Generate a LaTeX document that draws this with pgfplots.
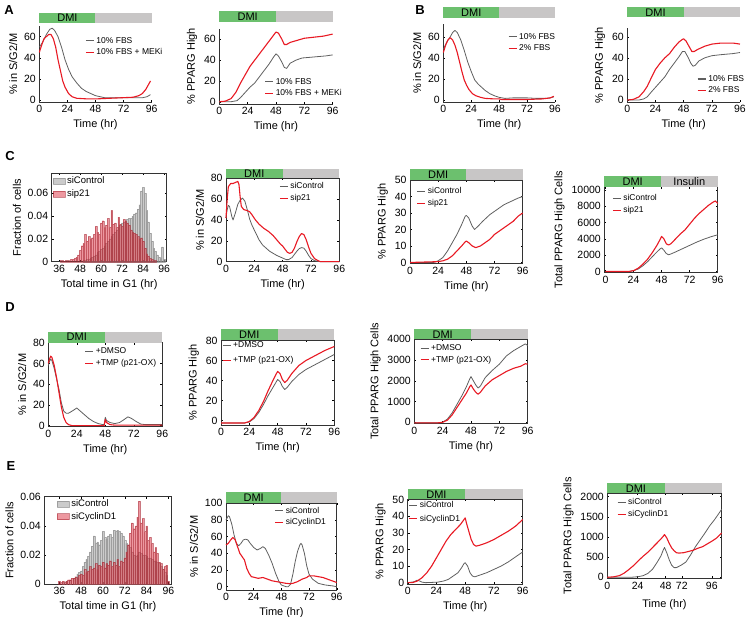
\documentclass[border=0pt]{standalone}
\usepackage{pgfplots}
\pgfplotsset{compat=1.18}
\usepackage{fontspec}
\setmainfont{Liberation Sans}
\definecolor{dmigreen}{RGB}{108,192,110}
\definecolor{dmigray}{RGB}{200,198,198}
\definecolor{lgray}{RGB}{95,95,95}
\definecolor{lred}{RGB}{232,25,35}
\definecolor{hgray}{RGB}{175,175,175}
\definecolor{hred}{RGB}{220,50,65}
\pgfplotsset{
  panel/.style={scale only axis, anchor=south west, clip=false,
    tick align=inside, major tick length=2pt,
    tick style={black, line width=0.4pt},
    axis line style={line width=0.5pt, black!80},
    ticklabel style={font=\fontsize{10.5}{11}\selectfont},
    label style={font=\fontsize{11}{12}\selectfont},
    /pgf/number format/assume math mode=true,
    xtick={0,24,48,72,96}, xmin=0, xmax=96, xlabel={Time (hr)},
    legend style={draw=none, fill=none, inner sep=0pt, outer sep=0pt,
      font=\fontsize{8.5}{10}\selectfont, cells={anchor=west}, anchor=north west},
    legend image code/.code={\draw[##1, line width=1.1pt] (0pt,0pt) -- (8pt,0pt);},
    scaled y ticks=false,
    yticklabel style={/pgf/number format/1000 sep={}},
    every axis plot/.append style={no markers, line join=round}},
  open/.style={axis lines*=left},
  hist/.style={legend image code/.code={\fill[##1] (0pt,-3pt) rectangle (12pt,3pt);},
    legend style={font=\fontsize{9.5}{11}\selectfont}},
  gl/.style={color=lgray, line width=0.8pt},
  rl/.style={color=lred, line width=1.1pt},
  hg/.style={ybar, bar width=1, bar shift=0pt, fill=hgray, fill opacity=0.65, draw=black!45, draw opacity=0.7, line width=0.25pt},
  hr/.style={ybar, bar width=1, bar shift=0pt, fill=hred, fill opacity=0.5, draw=hred!75!black, draw opacity=0.55, line width=0.25pt},
}
\newcommand{\dmibar}[2]{%
  \fill[dmigreen] ([yshift=#1]rel axis cs:0,1) rectangle ([yshift=#1+#2]rel axis cs:0.5,1);
  \fill[dmigray] ([yshift=#1]rel axis cs:0.5,1) rectangle ([yshift=#1+#2]rel axis cs:1,1);
  \node[font=\fontsize{11}{11}\selectfont, inner sep=0pt] at ([yshift=#1+0.5*#2]rel axis cs:0.25,1) {DMI};}
\begin{document}
\begin{tikzpicture}[x=1pt,y=1pt]
\path[use as bounding box] (0pt,0pt) rectangle (750pt,617pt);
\node[font=\bfseries\fontsize{13}{13}\selectfont] at (9pt,607pt) {A};
\node[font=\bfseries\fontsize{13}{13}\selectfont] at (420pt,607pt) {B};
\node[font=\bfseries\fontsize{13}{13}\selectfont] at (10pt,461pt) {C};
\node[font=\bfseries\fontsize{13}{13}\selectfont] at (10pt,310pt) {D};
\node[font=\bfseries\fontsize{13}{13}\selectfont] at (11pt,151pt) {E};

% ---------------- A left
\begin{axis}[panel, open, at={(39.3pt,515pt)}, width=112.4pt, height=75.9pt,
  ymin=-2, ymax=70, ytick={0,20,40,60}, ylabel={\% in S/G2/M},
  legend style={at={(0.41,0.88)}}]
\addplot[gl] coordinates {(0,50)(3,55)(6,62)(9,67)(11,68)(13,66)(16,60)(19,50)(22,38)(25,29)(28,22)(32,16)(36,11)(40,8)(44,6)(48,4)(52,3)(56,2)(60,2)(70,2)(80,2)(88,2)(92,3)(95,5)};
\addplot[rl] coordinates {(0,45)(2,52)(4,58)(6,60)(8,62)(10,62)(12,58)(14,50)(16,38)(18,28)(20,18)(22,12)(25,6)(28,3)(32,1.5)(40,1)(50,1)(60,1.5)(70,2)(80,2.5)(85,4)(88,6)(91,10)(93,14)(95,18)};
\legend{10\% FBS, 10\% FBS + MEKi}
\dmibar{3.4pt}{10pt}
\end{axis}

% ---------------- A right
\begin{axis}[panel, open, at={(219.3pt,513.2pt)}, width=113.4pt, height=74.9pt,
  ymin=-2, ymax=70, ytick={0,20,40,60}, ylabel={\% PPARG High},
  legend style={at={(0.40,0.37)}}]
\addplot[gl] coordinates {(0,0)(10,0)(15,1)(18,4)(22,9)(26,14)(30,18)(34,24)(38,30)(42,36)(46,43)(48,46)(50,44)(53,38)(55,33)(57,32)(60,37)(65,40)(70,42)(80,43)(90,44)(96,45)};
\addplot[rl] coordinates {(0,0)(5,0.5)(10,3)(14,9)(18,18)(22,26)(26,34)(30,40)(34,46)(38,52)(42,58)(46,64)(48,67)(50,66)(53,60)(55,55)(57,55)(60,57)(66,59)(72,61)(80,62)(88,63)(96,65)};
\legend{10\% FBS, 10\% FBS + MEKi}
\dmibar{6.6pt}{11pt}
\end{axis}

% ---------------- B left
\begin{axis}[panel, open, at={(443.3pt,514.9pt)}, width=111.7pt, height=78pt,
  ymin=-2, ymax=72, ytick={0,20,40,60}, ylabel={\% in S/G2/M},
  legend style={at={(0.58,0.91)}}]
\addplot[gl] coordinates {(0,48)(3,55)(6,60)(8,64)(10,66)(12,64)(15,57)(18,47)(21,36)(24,27)(27,19)(30,15)(33,12)(36,9)(40,6)(44,4)(48,2.5)(53,1.5)(60,2)(72,2)(80,1.5)(88,1.5)(92,2)(95,3)};
\addplot[rl] coordinates {(0,45)(2,52)(4,57)(6,59)(8,57)(10,52)(12,45)(14,36)(16,27)(18,19)(20,14)(22,10)(25,6)(28,4)(32,2.5)(36,1.5)(44,1)(48,1)(50,0.5)(60,0.5)(72,0.5)(85,1)(92,2)(95,3.5)};
\legend{10\% FBS, 2\% FBS}
\dmibar{5.7pt}{11pt}
\end{axis}

% ---------------- B right
\begin{axis}[panel, open, at={(627.3pt,514.9pt)}, width=112.7pt, height=73.8pt,
  ymin=-2, ymax=68, ytick={0,20,40,60}, ylabel={\% PPARG High},
  legend style={at={(0.62,0.39)}}]
\addplot[gl] coordinates {(0,0)(10,0)(14,1)(17,3)(20,7)(24,12)(28,17)(32,22)(36,29)(40,35)(44,41)(47,46)(49,46)(52,40)(54,35)(56,32)(58,33)(61,37)(66,40)(72,42)(80,43)(90,44)(96,45)};
\addplot[rl] coordinates {(0,0)(5,0.5)(10,3)(14,8)(17,13)(20,20)(24,29)(28,35)(32,40)(36,44)(40,50)(44,55)(47,57.5)(48,58)(50,56)(53,50)(55,46)(57,46)(60,48)(66,51)(72,53)(80,54)(90,54)(96,53)};
\legend{10\% FBS, 2\% FBS}
\dmibar{11pt}{10pt}
\end{axis}

% ---------------- C histogram
\begin{axis}[panel, hist, at={(51.7pt,355.3pt)}, width=115pt, height=88.4pt,
  xmin=31.7, xmax=97.4, xtick={36,48,60,72,84,96}, ymin=0, ymax=0.0775,
  ytick={0,0.02,0.04,0.06}, yticklabels={0,0.02,0.04,0.06},
  ylabel={Fraction of cells}, xlabel={Total time in G1 (hr)},
  legend style={at={(0.01,0.98)}}]
\addplot[hg] coordinates {(50,0.001)(51,0.001)(52,0.002)(53,0.002)(54,0.003)(55,0.004)(56,0.005)(57,0.006)(58,0.008)(59,0.009)(60,0.011)(61,0.012)(62,0.014)(63,0.016)(64,0.018)(65,0.020)(66,0.022)(67,0.024)(68,0.026)(69,0.028)(70,0.030)(71,0.032)(72,0.034)(73,0.035)(74,0.036)(75,0.037)(76,0.038)(77,0.038)(78,0.040)(79,0.042)(80,0.043)(81,0.046)(82,0.050)(83,0.062)(84,0.065)(85,0.060)(86,0.045)(87,0.035)(88,0.025)(89,0.018)(90,0.012)(91,0.009)(92,0.006)(93,0.004)(94,0.003)(95,0.013)(96,0.002)};
\addplot[hr] coordinates {(37,0.001)(38,0.001)(39,0.0005)(40,0.001)(41,0.001)(42,0.0005)(43,0.002)(44,0.002)(45,0.003)(46,0.004)(47,0.006)(48,0.010)(49,0.014)(50,0.016)(51,0.024)(52,0.018)(53,0.022)(54,0.020)(55,0.021)(56,0.024)(57,0.031)(58,0.026)(59,0.024)(60,0.034)(61,0.036)(62,0.030)(63,0.032)(64,0.038)(65,0.030)(66,0.045)(67,0.033)(68,0.034)(69,0.030)(70,0.039)(71,0.033)(72,0.031)(73,0.037)(74,0.036)(75,0.034)(76,0.032)(77,0.028)(78,0.026)(79,0.025)(80,0.024)(81,0.022)(82,0.020)(83,0.021)(84,0.018)(85,0.012)(86,0.007)(87,0.005)(88,0.003)(89,0.002)(90,0.001)(91,0.001)};
\legend{siControl, sip21}
\end{axis}

% ---------------- C S/G2/M
\begin{axis}[panel, at={(226pt,355.3pt)}, width=113.3pt, height=83.4pt,
  ymin=0, ymax=80, ytick={0,20,40,60,80}, ylabel={\% in S/G2/M},
  legend style={at={(0.47,0.97)}}]
\addplot[gl] coordinates {(0,42)(1,50)(2,54)(3,53)(5,43)(6,40)(8,47)(10,55)(12,59)(14,61)(16,58)(18,50)(20,41)(22,35)(25,28)(28,21)(31,16)(34,13)(37,10)(40,8)(43,6)(46,4.5)(49,3)(51,2)(53,2)(56,4)(58,7)(60,10)(62,12.5)(64,13.5)(66,13)(68,10)(70,6)(72,3)(75,1)(78,0.3)(80,0)(96,0)};
\addplot[rl] coordinates {(0,42)(1,60)(2,72)(4,75)(6,75)(8,76)(10,77)(11,74)(12,62)(13,53)(15,50)(18,49)(20,48)(22,45)(25,40)(28,36)(32,32)(36,29)(40,25)(43,21)(46,17)(48,15)(50,12)(52,9)(54,8)(56,9)(58,13)(60,19)(62,24)(64,27)(66,26)(68,21)(70,14)(72,8)(75,3)(78,1)(80,0)(96,0)};
\legend{siControl, sip21}
\dmibar{0pt}{9.5pt}
\end{axis}

% ---------------- C PPARG
\begin{axis}[panel, at={(410pt,353.7pt)}, width=112.7pt, height=83.3pt,
  ymin=-0.5, ymax=50, ytick={0,10,20,30,40,50}, ylabel={\% PPARG High},
  legend style={at={(0.06,0.93)}}]
\addplot[gl] coordinates {(0,0)(20,0)(24,1)(28,3)(32,7)(36,12)(40,17)(44,23)(47,28)(48,28.5)(50,27)(53,22)(55,20)(58,22)(62,25)(68,29)(74,32)(80,35)(86,37)(92,39)(96,40)};
\addplot[rl] coordinates {(0,0)(24,0.5)(28,1)(32,2)(36,4)(40,7)(44,10)(47,12.5)(48,13)(50,12)(53,10)(56,9)(60,10)(64,12)(68,14)(72,17)(76,19)(80,21)(84,23)(88,25)(92,28)(96,30)};
\legend{siControl, sip21}
\dmibar{0pt}{10.7pt}
\end{axis}

% ---------------- C Total
\begin{axis}[panel, at={(604.3pt,344.7pt)}, width=113.4pt, height=85.6pt,
  xmin=-1, ymin=-100, ymax=10400, ytick={0,2000,4000,6000,8000,10000},
  ylabel={Total PPARG High Cells}, xlabel={},
  legend style={at={(0.07,0.93)}}]
\addplot[gl] coordinates {(0,0)(20,0)(24,100)(28,300)(32,700)(36,1200)(40,1800)(44,2400)(47,2800)(48,2900)(50,2600)(52,2200)(54,2050)(56,2150)(60,2400)(66,2800)(72,3200)(78,3600)(84,3950)(90,4250)(96,4500)};
\addplot[rl] coordinates {(0,0)(20,0)(24,100)(28,400)(32,900)(36,1500)(40,2300)(44,3200)(47,4000)(48,4300)(50,4000)(52,3400)(54,3250)(56,3400)(60,4000)(64,4600)(68,5100)(72,5800)(76,6500)(80,7100)(84,7600)(88,8100)(92,8500)(94,8650)(96,8350)};
\legend{siControl, sip21}
\dmibar{0pt}{10.6pt}
\node[font=\fontsize{11}{11}\selectfont, inner sep=0pt] at ([yshift=5.3pt]rel axis cs:0.75,1) {Insulin};
\end{axis}

% ---------------- D left
\begin{axis}[panel, at={(48.3pt,190.3pt)}, width=114pt, height=84pt,
  ymin=-1, ymax=80, ytick={0,20,40,60,80}, ylabel={\% in S/G2/M},
  legend style={at={(0.32,0.96)}}]
\addplot[gl] coordinates {(0,58)(1,62)(2,64)(3,63)(5,55)(7,45)(9,35)(11,22)(13,14)(15,12)(17,12)(20,14)(24,17)(27,14)(30,11)(34,7)(38,4)(42,2)(46,1)(47,1)(48,8)(49,5)(52,3)(56,2)(60,3)(64,6)(67,8.5)(70,7)(74,4)(78,1.5)(82,1)(96,1)};
\addplot[rl] coordinates {(0,60)(1,64)(2,67)(3,66)(5,58)(7,46)(9,32)(11,18)(13,8)(15,3)(17,1)(20,0)(47,0)(48,6)(49,3)(52,1)(56,0.5)(60,0.5)(96,0.5)};
\legend{+DMSO, +TMP (p21-OX)}
\dmibar{0pt}{11pt}
\end{axis}

% ---------------- D middle
\begin{axis}[panel, at={(221pt,192pt)}, width=113.3pt, height=85pt,
  ymin=-4.5, ymax=80.5, ytick={0,20,40,60,80}, ylabel={\% PPARG High},
  legend style={at={(0.01,1.0)}, row sep=3pt}]
\addplot[gl] coordinates {(0,-2.5)(20,-2.5)(24,-1.5)(28,2)(32,8)(36,16)(40,25)(44,33)(47,39)(48,41)(50,39)(52,34)(54,31)(56,33)(60,39)(66,46)(72,51)(80,56)(88,61)(96,66)};
\addplot[rl] coordinates {(0,-2.5)(20,-2.5)(24,-1)(28,3)(32,10)(36,19)(40,30)(44,40)(47,47)(48,49)(50,47)(52,41)(54,38)(56,40)(60,47)(66,55)(72,60)(80,65)(88,70)(96,74)};
\legend{+DMSO, +TMP (p21-OX)}
\dmibar{0pt}{10.7pt}
\end{axis}

% ---------------- D right
\begin{axis}[panel, at={(414.3pt,193.7pt)}, width=113.4pt, height=84pt,
  ymin=-50, ymax=4000, ytick={0,1000,2000,3000,4000}, ylabel={Total PPARG High Cells},
  legend style={at={(0.05,0.96)}}]
\addplot[gl] coordinates {(0,-30)(20,-30)(24,0)(28,150)(32,450)(36,850)(40,1250)(44,1700)(47,2100)(48,2200)(50,2000)(52,1800)(54,1650)(56,1750)(60,2150)(66,2500)(72,2800)(78,3200)(84,3450)(90,3650)(94,3780)(96,3700)};
\addplot[rl] coordinates {(0,-30)(20,-30)(24,0)(28,100)(32,350)(36,700)(40,1050)(44,1400)(47,1720)(48,1800)(50,1600)(52,1450)(54,1350)(56,1450)(60,1750)(66,2050)(72,2250)(78,2450)(84,2600)(90,2700)(94,2820)(96,2800)};
\legend{+DMSO, +TMP (p21-OX)}
\dmibar{0pt}{10pt}
\end{axis}

% ---------------- E histogram
\begin{axis}[panel, hist, at={(44.3pt,33pt)}, width=127.4pt, height=87.3pt,
  xmin=27.7, xmax=97.8, xtick={36,48,60,72,84,96}, ymin=0, ymax=0.06,
  ytick={0,0.02,0.04,0.06}, yticklabels={0,0.02,0.04,0.06},
  ylabel={Fraction of cells}, xlabel={Total time in G1 (hr)},
  legend style={at={(0.1,0.985)}}]
\addplot[hg] coordinates {(38,0.001)(40,0.002)(42,0.003)(44,0.004)(45,0.005)(46,0.007)(47,0.008)(48,0.009)(49,0.012)(50,0.015)(51,0.017)(52,0.019)(53,0.022)(54,0.026)(55,0.033)(56,0.028)(57,0.029)(58,0.027)(59,0.030)(60,0.036)(61,0.032)(62,0.031)(63,0.033)(64,0.034)(65,0.032)(66,0.037)(67,0.036)(68,0.037)(69,0.036)(70,0.035)(71,0.033)(72,0.030)(73,0.028)(74,0.027)(75,0.025)(76,0.022)(77,0.020)(78,0.019)(79,0.020)(80,0.022)(81,0.021)(82,0.020)(83,0.020)(84,0.019)(85,0.018)(86,0.018)(87,0.017)(88,0.016)(89,0.016)(90,0.015)(91,0.014)(92,0.012)(93,0.010)(94,0.008)(95,0.006)};
\addplot[hr] coordinates {(36,0.002)(37,0.001)(38,0.002)(39,0.001)(40,0.002)(41,0.003)(42,0.003)(43,0.004)(44,0.004)(45,0.005)(46,0.004)(47,0.006)(48,0.007)(49,0.006)(50,0.010)(51,0.008)(52,0.009)(53,0.012)(54,0.010)(55,0.011)(56,0.014)(57,0.010)(58,0.013)(59,0.012)(60,0.015)(61,0.011)(62,0.014)(63,0.013)(64,0.016)(65,0.012)(66,0.015)(67,0.013)(68,0.017)(69,0.012)(70,0.016)(71,0.015)(72,0.018)(73,0.022)(74,0.027)(75,0.035)(76,0.042)(77,0.038)(78,0.040)(79,0.046)(80,0.057)(81,0.042)(82,0.045)(83,0.036)(84,0.040)(85,0.030)(86,0.032)(87,0.028)(88,0.022)(89,0.025)(90,0.021)(91,0.015)(92,0.014)(93,0.010)(94,0.012)(95,0.013)(96,0.002)};
\legend{siControl, siCyclinD1}
\end{axis}

% ---------------- E S/G2/M
\begin{axis}[panel, at={(226pt,27pt)}, width=110.7pt, height=86.7pt,
  ymin=-4, ymax=100, ytick={0,20,40,60,80,100}, ylabel={\% in S/G2/M},
  legend style={at={(0.44,0.98)}}]
\addplot[gl] coordinates {(0,80)(2,85)(3,84)(5,75)(7,62)(9,52)(11,49)(13,52)(15,56)(17,57)(19,56)(21,52)(24,47)(27,44)(30,46)(32,48)(34,46)(37,38)(40,28)(43,16)(46,6)(48,2)(52,0)(54,0)(56,3)(58,15)(60,30)(62,42)(64,50)(65,52)(66,50)(68,40)(70,25)(72,15)(75,9)(80,4)(86,2)(92,1)(96,0)};
\addplot[rl] coordinates {(0,50)(2,52)(4,56)(6,59)(8,56)(10,48)(12,40)(14,36)(16,32)(18,22)(20,16)(22,12)(25,11)(28,10)(32,11)(36,9)(40,7)(44,6)(48,5)(52,4)(56,3.5)(58,4)(62,6)(66,9)(70,11)(72,13)(76,13)(80,12)(84,11)(88,9)(92,7)(96,5)};
\legend{siControl, siCyclinD1}
\dmibar{0pt}{11pt}
\end{axis}

% ---------------- E PPARG
\begin{axis}[panel, at={(407.7pt,33pt)}, width=115pt, height=84.7pt,
  ymin=-0.8, ymax=50.2, ytick={0,10,20,30,40,50}, ylabel={\% PPARG High},
  legend style={at={(0.01,1.0)}, row sep=2pt}]
\addplot[gl] coordinates {(0,0)(5,0.5)(8,1.5)(10,1)(12,0.3)(15,0)(25,0.3)(30,1)(34,2)(38,4)(42,6)(45,9)(47,11.5)(48,12)(50,10)(52,6)(54,4)(56,3.5)(60,4.5)(66,6)(72,8)(78,10)(84,12.5)(90,15.5)(96,18.5)};
\addplot[rl] coordinates {(0,0)(4,0)(8,1)(12,3)(16,6)(20,10)(24,15)(28,20)(32,25)(36,29)(40,32)(44,35)(47,38)(48,39)(49,36)(51,31)(53,26)(55,23)(57,22)(60,22.5)(66,24)(72,26)(78,28.5)(84,31)(90,34)(96,38)};
\legend{siControl, siCyclinD1}
\dmibar{0pt}{10pt}
\end{axis}

% ---------------- E Total
\begin{axis}[panel, at={(607.3pt,38.7pt)}, width=114.4pt, height=85pt,
  ymin=-25, ymax=2084, ytick={0,500,1000,1500,2000}, ylabel={Total PPARG High Cells},
  xtick={0,25.5,49,62.5,87.7}, xticklabels={0,24,48,\raisebox{4pt}{72},96},
  legend style={at={(0.085,0.96)}}]
\addplot[gl] coordinates {(0,0)(20,0)(26,15)(30,40)(34,95)(38,200)(42,380)(45,530)(47,680)(48,740)(50,600)(52,430)(54,300)(56,240)(58,240)(62,300)(66,380)(70,560)(74,760)(78,930)(82,1100)(86,1280)(90,1430)(94,1600)(96,1690)};
\addplot[rl] coordinates {(0,0)(5,10)(10,40)(14,100)(18,190)(22,290)(26,410)(30,520)(34,620)(38,740)(42,860)(45,950)(47,1020)(48,1060)(50,970)(52,840)(54,730)(56,660)(58,610)(60,600)(64,610)(68,640)(72,670)(76,720)(80,760)(84,830)(88,900)(92,980)(96,1100)};
\legend{siControl, siCyclinD1}
\dmibar{0pt}{10pt}
\end{axis}
\end{tikzpicture}
\end{document}
